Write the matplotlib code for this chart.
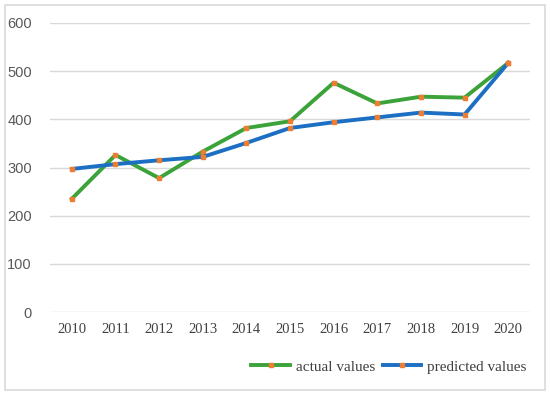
import matplotlib.pyplot as plt
import numpy as np

years = ["2010", "2011", "2012", "2013", "2014", "2015", "2016", "2017", "2018", "2019", "2020"]
actual = [235, 326, 278, 333, 382, 396, 476, 433, 447, 445, 517]
predicted = [297, 307, 315, 322, 351, 382, 394, 404, 414, 410, 517]

green = "#3ca33a"
blue = "#1d6fc4"
orange = "#ed7d31"

fig = plt.figure(figsize=(5.5, 3.95), dpi=100)
ax = fig.add_axes([50 / 550, 1 - 312 / 395, 480 / 550, 289 / 395])

# outer frame of the chart area
fig.patches.append(plt.Rectangle((5 / 550, 5 / 395), 540 / 550, 385 / 395,
                                 transform=fig.transFigure, fill=False,
                                 edgecolor="#d9d9d9", linewidth=1.2))

x = np.arange(len(years))
ax.plot(x, actual, color=green, lw=2.8, marker="s", ms=3.2,
        mfc=orange, mec=orange, label="actual values")
ax.plot(x, predicted, color=blue, lw=2.8, marker="s", ms=3.2,
        mfc=orange, mec=orange, label="predicted values")

ax.set_xlim(-0.5, len(years) - 0.5)
ax.set_ylim(0, 600)
ax.set_yticks(range(0, 601, 100))
ax.set_xticks(x)
ax.set_xticklabels(years, fontfamily="Liberation Serif", fontsize=10.5, color="#404040")
for t in ax.get_yticklabels():
    t.set_fontfamily("Liberation Sans")
    t.set_fontsize(10.5)
    t.set_color("#595959")

ax.grid(axis="y", color="#d9d9d9", lw=1)
ax.set_axisbelow(True)
for s in ax.spines.values():
    s.set_visible(False)
ax.tick_params(length=0, pad=8)
ax.tick_params(axis="y", pad=13)

leg = ax.legend(loc="upper right", bbox_to_anchor=(1.005, -0.145), ncol=2, frameon=False,
                prop={"family": "Liberation Serif", "size": 11},
                handlelength=2.5, columnspacing=0.5, handletextpad=0.4,
                borderaxespad=0)
for t in leg.get_texts():
    t.set_color("#404040")

fig.savefig("out.png", dpi=100)
